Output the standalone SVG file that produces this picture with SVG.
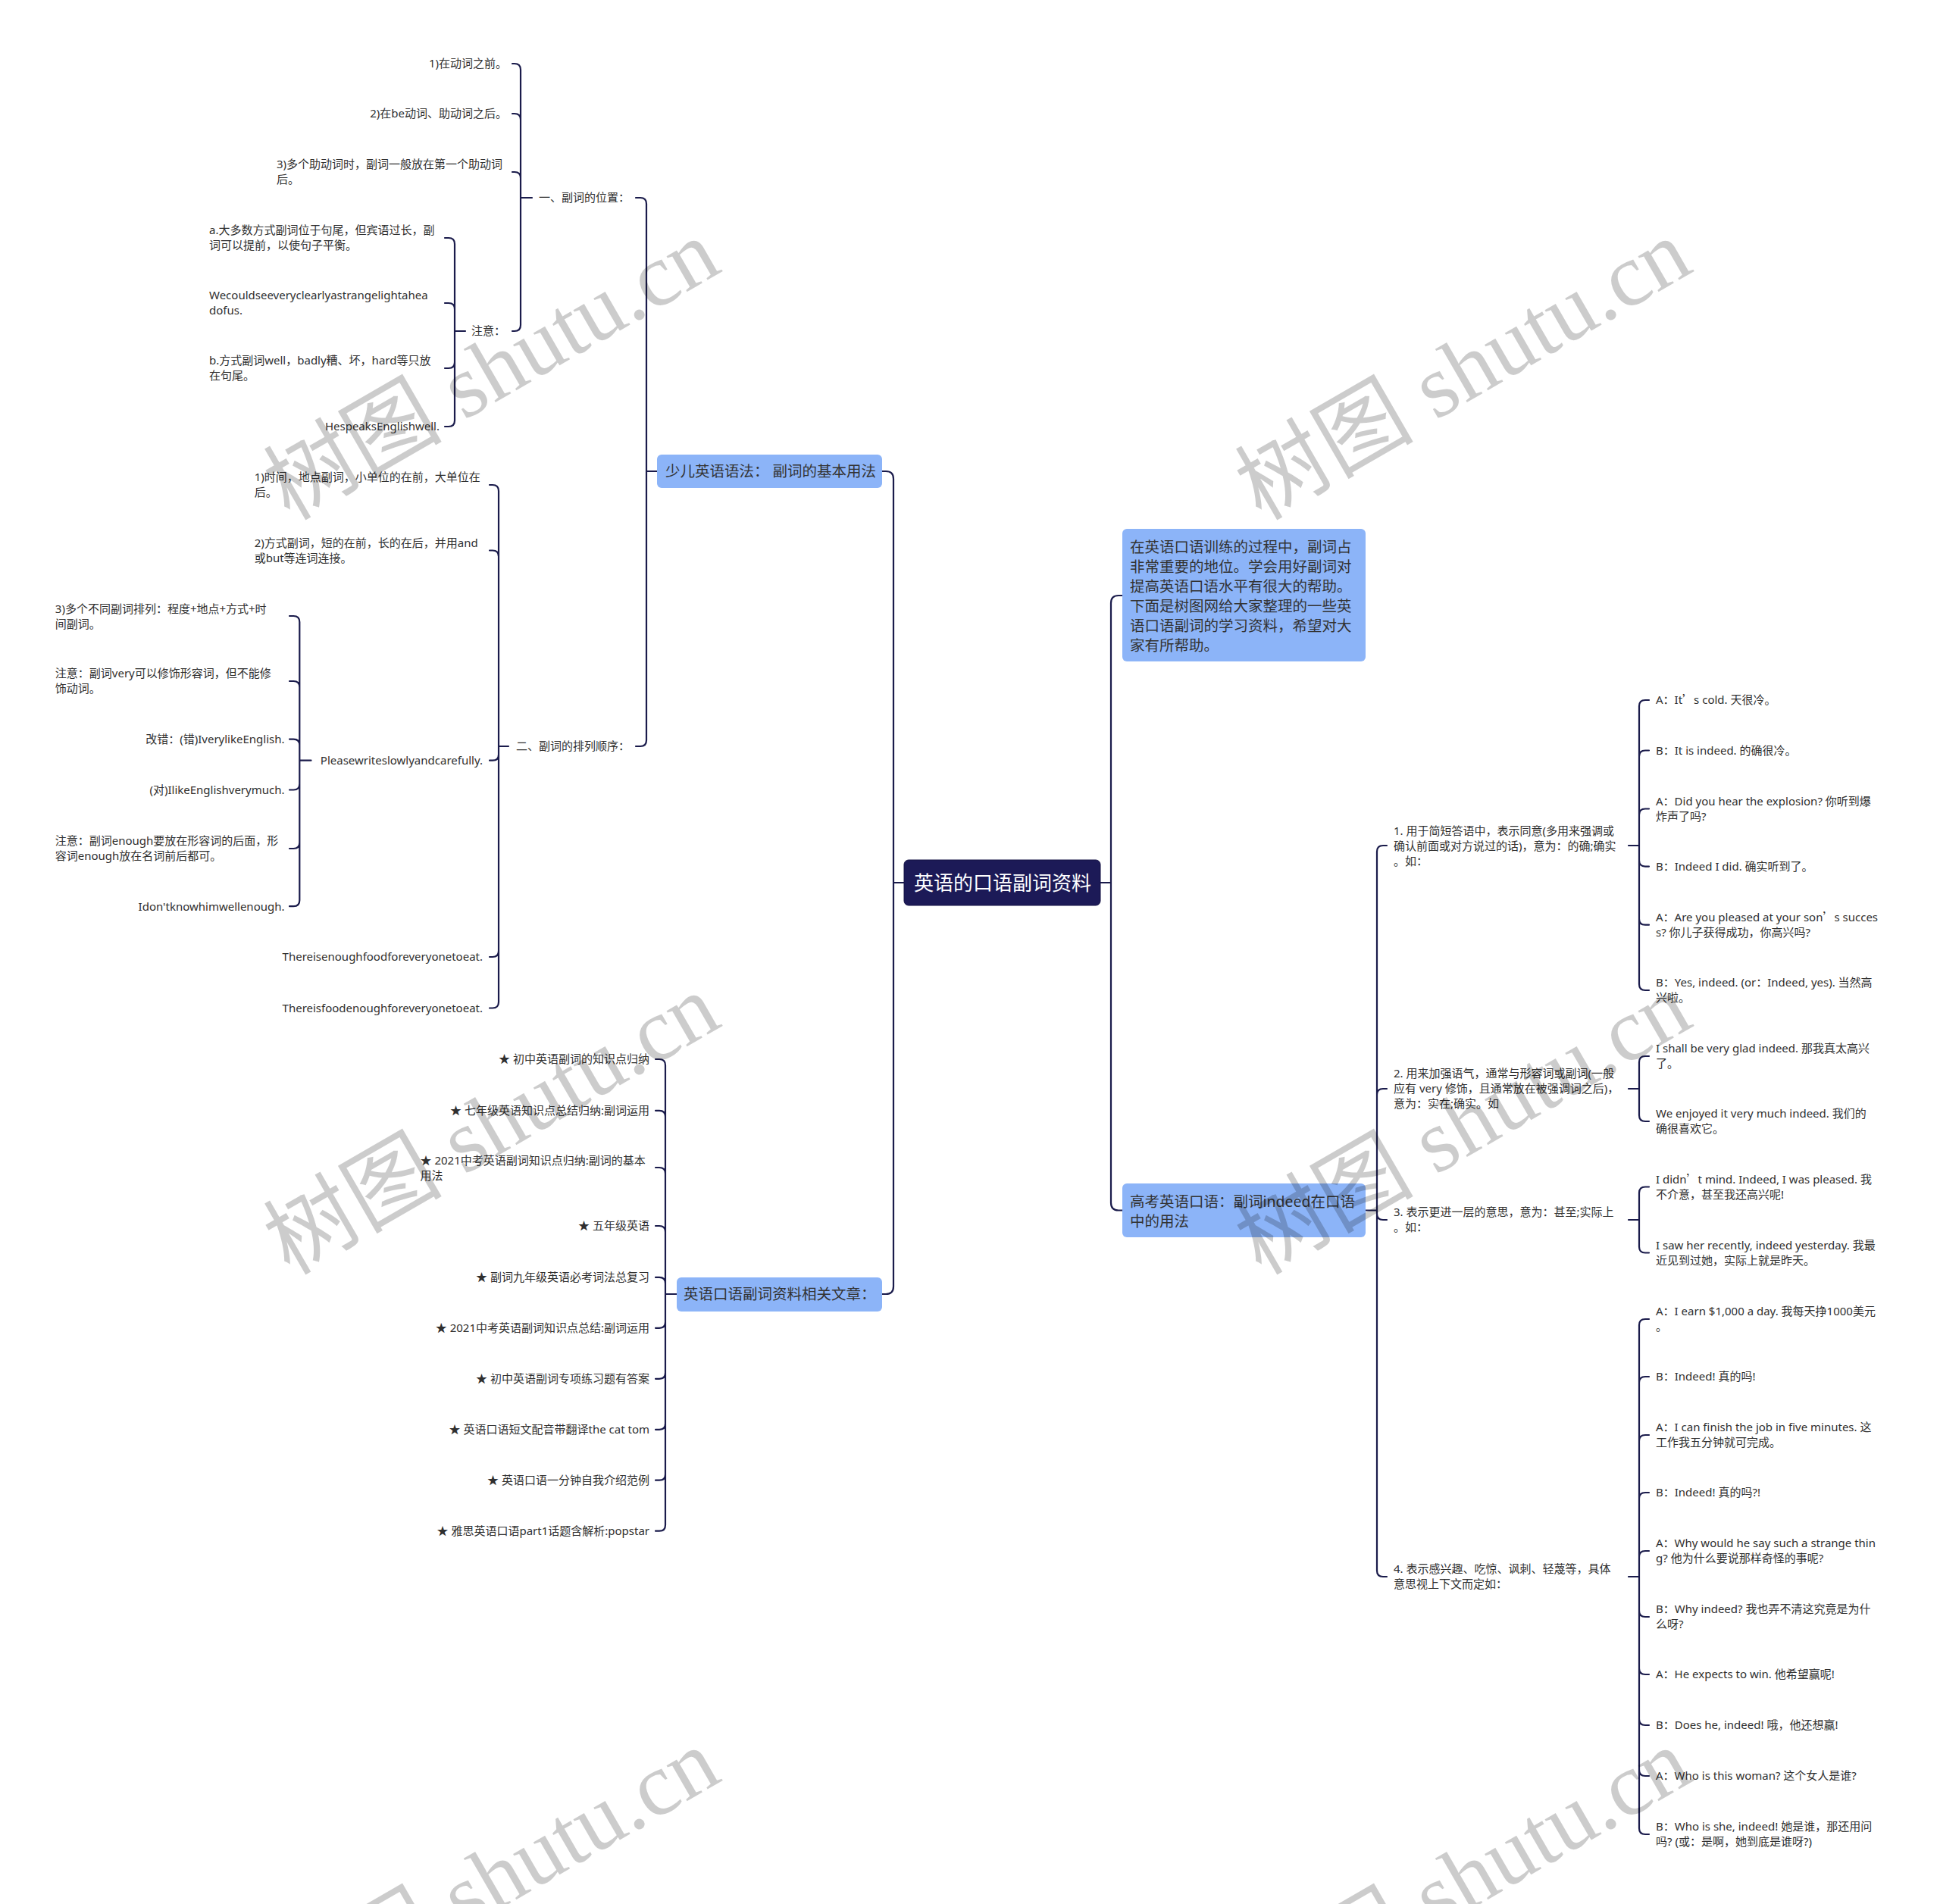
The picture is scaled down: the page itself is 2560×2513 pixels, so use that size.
<svg xmlns="http://www.w3.org/2000/svg" width="2560" height="2513" viewBox="0 0 2560 2513">
<style>
text{font-family:"Noto Sans","Noto Sans CJK SC",sans-serif;}
.t{font-size:15px;fill:#2f2f2f;}
.e{text-anchor:end;}
.bt{font-size:19.5px;fill:#333;}
.rt{font-size:26px;fill:#fff;}
.box{fill:#8cb4f8;}
.root{fill:#1c1a57;stroke:#141245;stroke-width:1;}
.c{fill:none;stroke:#1a1b4b;stroke-width:2.2;stroke-linecap:round;stroke-linejoin:round;}
.cj{font-family:"Noto Sans CJK SC",sans-serif;}
.wm{font-family:"Liberation Serif","Noto Sans CJK SC",serif;font-size:118px;fill:#000;fill-opacity:0.2;}
</style>
<rect width="2560" height="2513" fill="#fff"/>
<g id="connectors">
<path class="c" d="M1193 1165 H1179 M1164 622 H1169 Q1179 622 1179 632 V1165 M1164 1708 H1169 Q1179 1708 1179 1698 V1165"/>
<path class="c" d="M1452 1165 H1466 M1481 786 H1476 Q1466 786 1466 796 V1165 M1481 1597.5 H1476 Q1466 1597.5 1466 1587.5 V1165"/>
<path class="c" d="M867 622 H853 M839 261 H845 Q853 261 853 269 V622 M839 985 H845 Q853 985 853 977 V622"/>
<path class="c" d="M702 261 H687 M676 84 H679 Q687 84 687 92 V261 M676 150 H679 Q687 150 687 158 V261 M676 227 H679 Q687 227 687 235 V261 M676 437 H679 Q687 437 687 429 V261"/>
<path class="c" d="M614 437 H600 M587 314 H592 Q600 314 600 322 V437 M587 400 H592 Q600 400 600 408 V437 M587 486 H592 Q600 486 600 478 V437 M587 563 H592 Q600 563 600 555 V437"/>
<path class="c" d="M671 985 H658 M646 640 H650 Q658 640 658 648 V985 M646 726.5 H650 Q658 726.5 658 734.5 V985 M646 1003.7 H650 Q658 1003.7 658 995.7 V985 M646 1263 H650 Q658 1263 658 1255 V985 M646 1330.5 H650 Q658 1330.5 658 1322.5 V985"/>
<path class="c" d="M410.5 1003.7 H395.3 M382 813 H387.3 Q395.3 813 395.3 821 V1003.7 M382 899 H387.3 Q395.3 899 395.3 907 V1003.7 M382 975.6 H387.3 Q395.3 975.6 395.3 983.6 V1003.7 M382 1042.5 H387.3 Q395.3 1042.5 395.3 1034.5 V1003.7 M382 1120 H387.3 Q395.3 1120 395.3 1112 V1003.7 M382 1196.2 H387.3 Q395.3 1196.2 395.3 1188.2 V1003.7"/>
<path class="c" d="M893 1708 H878 M865 1398 H870 Q878 1398 878 1406 V1708 M865 1465.8 H870 Q878 1465.8 878 1473.8 V1708 M865 1541 H870 Q878 1541 878 1549 V1708 M865 1618 H870 Q878 1618 878 1626 V1708 M865 1685.9 H870 Q878 1685.9 878 1693.9 V1708 M865 1752.8 H870 Q878 1752.8 878 1744.8 V1708 M865 1819.8 H870 Q878 1819.8 878 1811.8 V1708 M865 1886.8 H870 Q878 1886.8 878 1878.8 V1708 M865 1953.7 H870 Q878 1953.7 878 1945.7 V1708 M865 2020.7 H870 Q878 2020.7 878 2012.7 V1708"/>
<path class="c" d="M1802 1597.5 H1817 M1830 1116 H1825 Q1817 1116 1817 1124 V1597.5 M1830 1437 H1825 Q1817 1437 1817 1445 V1597.5 M1830 1610 H1825 Q1817 1610 1817 1602 V1597.5 M1830 2081 H1825 Q1817 2081 1817 2073 V1597.5"/>
<path class="c" d="M2149 1116 H2163 M2176 924 H2171 Q2163 924 2163 932 V1116 M2176 990.5 H2171 Q2163 990.5 2163 998.5 V1116 M2176 1067.5 H2171 Q2163 1067.5 2163 1075.5 V1116 M2176 1143.6 H2171 Q2163 1143.6 2163 1135.6 V1116 M2176 1220.7 H2171 Q2163 1220.7 2163 1212.7 V1116 M2176 1307 H2171 Q2163 1307 2163 1299 V1116"/>
<path class="c" d="M2149 1437 H2163 M2176 1394 H2171 Q2163 1394 2163 1402 V1437 M2176 1480 H2171 Q2163 1480 2163 1472 V1437"/>
<path class="c" d="M2149 1610 H2163 M2176 1566.5 H2171 Q2163 1566.5 2163 1574.5 V1610 M2176 1653.5 H2171 Q2163 1653.5 2163 1645.5 V1610"/>
<path class="c" d="M2149 2081 H2163 M2176 1741 H2171 Q2163 1741 2163 1749 V2081 M2176 1817 H2171 Q2163 1817 2163 1825 V2081 M2176 1894 H2171 Q2163 1894 2163 1902 V2081 M2176 1970 H2171 Q2163 1970 2163 1978 V2081 M2176 2047 H2171 Q2163 2047 2163 2055 V2081 M2176 2134 H2171 Q2163 2134 2163 2126 V2081 M2176 2210 H2171 Q2163 2210 2163 2202 V2081 M2176 2277 H2171 Q2163 2277 2163 2269 V2081 M2176 2344 H2171 Q2163 2344 2163 2336 V2081 M2176 2421 H2171 Q2163 2421 2163 2413 V2081"/>
</g>
<g id="root"><rect class="root" x="1193" y="1135" width="259" height="60" rx="6"/><text class="rt" x="1206" y="1174.5">英语的口语副词资料</text></g>
<g id="intro"><rect class="box" x="1481" y="698" width="321" height="175" rx="6"/>
<text class="bt" x="1491" y="729">在英语口语训练的过程中，副词占<tspan x="1491" dy="26">非常重要的地位。学会用好副词对</tspan><tspan x="1491" dy="26">提高英语口语水平有很大的帮助。</tspan><tspan x="1491" dy="26">下面是树图网给大家整理的一些英</tspan><tspan x="1491" dy="26">语口语副词的学习资料，希望对大</tspan><tspan x="1491" dy="26">家有所帮助。</tspan></text></g>
<g id="b-indeed"><rect class="box" x="1481" y="1562" width="321" height="71" rx="6"/>
<text class="bt" x="1491" y="1593">高考英语口语：副词indeed在口语<tspan x="1491" dy="26">中的用法</tspan></text></g>
<g id="b-basic"><rect class="box" x="867" y="600" width="297" height="44" rx="6"/><text class="bt" x="878" y="629">少儿英语语法： 副词的基本用法</text></g>
<g id="b-articles"><rect class="box" x="893" y="1686" width="271" height="45" rx="6"/><text class="bt" x="902" y="1715">英语口语副词资料相关文章：</text></g>
<g id="n-pos"><text class="t" x="711" y="266.3">一、副词的位置：</text></g>
<g id="n-a1"><text class="t e" x="669" y="89.3">1)在动词之前。</text></g>
<g id="n-a2"><text class="t e" x="669" y="155.3">2)在be动词、助动词之后。</text></g>
<g id="n-a3"><text class="t" x="365" y="222.3">3)多个助动词时，副词一般放在第一个助动词<tspan x="365" dy="20">后。</tspan></text></g>
<g id="n-note"><text class="t" x="622" y="442.3">注意：</text></g>
<g id="n-n1"><text class="t" x="276" y="309.3">a.大多数方式副词位于句尾，但宾语过长，副<tspan x="276" dy="20">词可以提前，以使句子平衡。</tspan></text></g>
<g id="n-n2"><text class="t" x="276" y="395.3">Wecouldseeveryclearlyastrangelightahea<tspan x="276" dy="20">dofus.</tspan></text></g>
<g id="n-n3"><text class="t" x="276" y="481.3">b.方式副词well，badly糟、坏，hard等只放<tspan x="276" dy="20">在句尾。</tspan></text></g>
<g id="n-n4"><text class="t e" x="580" y="568.3">HespeaksEnglishwell.</text></g>
<g id="n-order"><text class="t" x="681" y="990.3">二、副词的排列顺序：</text></g>
<g id="n-b1"><text class="t" x="335.7" y="635.3">1)时间，地点副词，小单位的在前，大单位在<tspan x="335.7" dy="20">后。</tspan></text></g>
<g id="n-b2"><text class="t" x="335.7" y="721.8">2)方式副词，短的在前，长的在后，并用and<tspan x="335.7" dy="20">或but等连词连接。</tspan></text></g>
<g id="n-b3"><text class="t e" x="637" y="1009">Pleasewriteslowlyandcarefully.</text></g>
<g id="n-b4"><text class="t e" x="637" y="1268.3">Thereisenoughfoodforeveryonetoeat.</text></g>
<g id="n-b5"><text class="t e" x="637" y="1335.8">Thereisfoodenoughforeveryonetoeat.</text></g>
<g id="n-c1"><text class="t" x="72.8" y="809">3)多个不同副词排列：程度+地点+方式+时<tspan x="72.8" dy="20">间副词。</tspan></text></g>
<g id="n-c2"><text class="t" x="72.8" y="894.3">注意：副词very可以修饰形容词，但不能修<tspan x="72.8" dy="20">饰动词。</tspan></text></g>
<g id="n-c3"><text class="t e" x="375.5" y="981">改错：(错)IverylikeEnglish.</text></g>
<g id="n-c4"><text class="t e" x="375.5" y="1047.8">(对)IlikeEnglishverymuch.</text></g>
<g id="n-c5"><text class="t" x="72.8" y="1115.3">注意：副词enough要放在形容词的后面，形<tspan x="72.8" dy="20">容词enough放在名词前后都可。</tspan></text></g>
<g id="n-c6"><text class="t e" x="375.5" y="1201.5">Idon'tknowhimwellenough.</text></g>
<g id="n-l1"><text class="t e" x="857" y="1403.3">★ 初中英语副词的知识点归纳</text></g>
<g id="n-l2"><text class="t e" x="857" y="1471.1">★ 七年级英语知识点总结归纳:副词运用</text></g>
<g id="n-l3"><text class="t" x="554.5" y="1537.3">★ 2021中考英语副词知识点归纳:副词的基本<tspan x="554.5" dy="20">用法</tspan></text></g>
<g id="n-l4"><text class="t e" x="857" y="1623.3">★ 五年级英语</text></g>
<g id="n-l5"><text class="t e" x="857" y="1691.2">★ 副词九年级英语必考词法总复习</text></g>
<g id="n-l6"><text class="t e" x="857" y="1758.1">★ 2021中考英语副词知识点总结:副词运用</text></g>
<g id="n-l7"><text class="t e" x="857" y="1825.1">★ 初中英语副词专项练习题有答案</text></g>
<g id="n-l8"><text class="t e" x="857" y="1892.1">★ 英语口语短文配音带翻译the cat tom</text></g>
<g id="n-l9"><text class="t e" x="857" y="1959">★ 英语口语一分钟自我介绍范例</text></g>
<g id="n-l10"><text class="t e" x="857" y="2026">★ 雅思英语口语part1话题含解析:popstar</text></g>
<g id="n-r1"><text class="t" x="1839" y="1101.7">1. 用于简短答语中，表示同意(多用来强调或<tspan x="1839" dy="20">确认前面或对方说过的话)，意为：的确;确实</tspan><tspan x="1839" dy="20">。如：</tspan></text></g>
<g id="n-r2"><text class="t" x="1839" y="1422.3">2. 用来加强语气，通常与形容词或副词(一般<tspan x="1839" dy="20">应有 very 修饰，且通常放在被强调词之后)，</tspan><tspan x="1839" dy="20">意为：实在;确实。如</tspan></text></g>
<g id="n-r3"><text class="t" x="1839" y="1605.3">3. 表示更进一层的意思，意为：甚至;实际上<tspan x="1839" dy="20">。如：</tspan></text></g>
<g id="n-r4"><text class="t" x="1839" y="2076.3">4. 表示感兴趣、吃惊、讽刺、轻蔑等，具体<tspan x="1839" dy="20">意思视上下文而定如：</tspan></text></g>
<g id="n-r1a"><text class="t" x="2185" y="929.3">A：It<tspan class="cj">’</tspan>s cold. 天很冷。</text></g>
<g id="n-r1b"><text class="t" x="2185" y="995.8">B：It is indeed. 的确很冷。</text></g>
<g id="n-r1c"><text class="t" x="2185" y="1062.8">A：Did you hear the explosion? 你听到爆<tspan x="2185" dy="20">炸声了吗?</tspan></text></g>
<g id="n-r1d"><text class="t" x="2185" y="1148.9">B：Indeed I did. 确实听到了。</text></g>
<g id="n-r1e"><text class="t" x="2185" y="1216">A：Are you pleased at your son<tspan class="cj">’</tspan>s succes<tspan x="2185" dy="20">s? 你儿子获得成功，你高兴吗?</tspan></text></g>
<g id="n-r1f"><text class="t" x="2185" y="1302.3">B：Yes, indeed. (or：Indeed, yes). 当然高<tspan x="2185" dy="20">兴啦。</tspan></text></g>
<g id="n-r2a"><text class="t" x="2185" y="1389.3">I shall be very glad indeed. 那我真太高兴<tspan x="2185" dy="20">了。</tspan></text></g>
<g id="n-r2b"><text class="t" x="2185" y="1475.3">We enjoyed it very much indeed. 我们的<tspan x="2185" dy="20">确很喜欢它。</tspan></text></g>
<g id="n-r3a"><text class="t" x="2185" y="1561.8">I didn<tspan class="cj">’</tspan>t mind. Indeed, I was pleased. 我<tspan x="2185" dy="20">不介意，甚至我还高兴呢!</tspan></text></g>
<g id="n-r3b"><text class="t" x="2185" y="1648.8">I saw her recently, indeed yesterday. 我最<tspan x="2185" dy="20">近见到过她，实际上就是昨天。</tspan></text></g>
<g id="n-r4a"><text class="t" x="2185" y="1736.3">A：I earn $1,000 a day. 我每天挣1000美元<tspan x="2185" dy="20">。</tspan></text></g>
<g id="n-r4b"><text class="t" x="2185" y="1822.3">B：Indeed! 真的吗!</text></g>
<g id="n-r4c"><text class="t" x="2185" y="1889.3">A：I can finish the job in five minutes. 这<tspan x="2185" dy="20">工作我五分钟就可完成。</tspan></text></g>
<g id="n-r4d"><text class="t" x="2185" y="1975.3">B：Indeed! 真的吗?!</text></g>
<g id="n-r4e"><text class="t" x="2185" y="2042.3">A：Why would he say such a strange thin<tspan x="2185" dy="20">g? 他为什么要说那样奇怪的事呢?</tspan></text></g>
<g id="n-r4f"><text class="t" x="2185" y="2129.3">B：Why indeed? 我也弄不清这究竟是为什<tspan x="2185" dy="20">么呀?</tspan></text></g>
<g id="n-r4g"><text class="t" x="2185" y="2215.3">A：He expects to win. 他希望赢呢!</text></g>
<g id="n-r4h"><text class="t" x="2185" y="2282.3">B：Does he, indeed! 哦，他还想赢!</text></g>
<g id="n-r4i"><text class="t" x="2185" y="2349.3">A：Who is this woman? 这个女人是谁?</text></g>
<g id="n-r4j"><text class="t" x="2185" y="2416.3">B：Who is she, indeed! 她是谁，那还用问<tspan x="2185" dy="20">吗? (或：是啊，她到底是谁呀?)</tspan></text></g>
<g id="watermark">
<text class="wm" x="382" y="688" transform="rotate(-30 382 688)">树图 shutu.cn</text>
<text class="wm" x="1664" y="688" transform="rotate(-30 1664 688)">树图 shutu.cn</text>
<text class="wm" x="382" y="1684" transform="rotate(-30 382 1684)">树图 shutu.cn</text>
<text class="wm" x="1664" y="1684" transform="rotate(-30 1664 1684)">树图 shutu.cn</text>
<text class="wm" x="382" y="2680" transform="rotate(-30 382 2680)">树图 shutu.cn</text>
<text class="wm" x="1664" y="2680" transform="rotate(-30 1664 2680)">树图 shutu.cn</text>
</g>
</svg>
